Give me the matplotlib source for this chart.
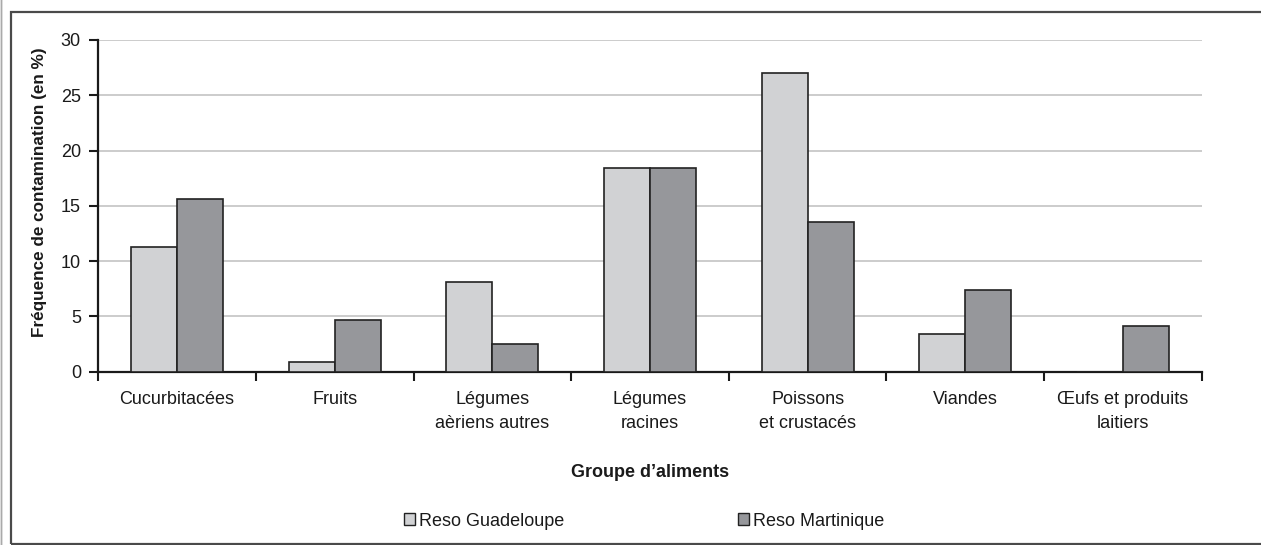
import matplotlib
matplotlib.use("Agg")
import matplotlib.pyplot as plt
import matplotlib.patches as mpatches
from matplotlib.ticker import MultipleLocator, FixedLocator
import numpy as np

plt.rcParams['font.family'] = ['Liberation Sans', 'DejaVu Sans']

# data
categories = ['Cucurbitacées', 'Fruits', 'Légumes\naèriens autres', 'Légumes\nracines',
              'Poissons\net crustacés', 'Viandes', 'Œufs et produits\nlaitiers']
guadeloupe = [11.3, 0.85, 8.15, 18.4, 27.0, 3.4, 0.0]
martinique = [15.6, 4.7, 2.55, 18.4, 13.5, 7.35, 4.1]
series_names = ['Reso Guadeloupe', 'Reso Martinique']

col = ['#d1d2d4', '#96979b']
edge = '#222222'
txt = '#1a1a1a'
fs = 13

W, H = 1261, 545
fig = plt.figure(figsize=(W / 100, H / 100), dpi=100)
ax = fig.add_axes([98.3 / W, (H - 371.7) / H, (1201.7 - 98.3) / W, (371.7 - 40) / H])

x = np.arange(len(categories))
bw = 0.292
ax.bar(x - bw / 2, guadeloupe, bw, color=col[0], edgecolor=edge, linewidth=1.2, zorder=3)
ax.bar(x + bw / 2, martinique, bw, color=col[1], edgecolor=edge, linewidth=1.2, zorder=3)

ax.set_xlim(-0.5, len(categories) - 0.5)
ax.set_ylim(0, 30)
ax.yaxis.set_major_locator(MultipleLocator(5))
ax.grid(axis='y', color='#cccccc', linewidth=1.4, zorder=0)
ax.set_axisbelow(True)

# category labels at centres, tick marks at the boundaries
ax.set_xticks(x)
ax.set_xticklabels(categories, fontsize=fs, color=txt, linespacing=1.5)
ax.tick_params(axis='x', which='major', length=0, pad=14)
ax.xaxis.set_minor_locator(FixedLocator(np.arange(-0.5, len(categories), 1)))
ax.tick_params(axis='x', which='minor', length=6.5, width=1.5, color=txt)
ax.tick_params(axis='y', length=6.5, width=1.5, color=txt, labelsize=fs,
               labelcolor=txt, pad=6)

for s in ['top', 'right']:
    ax.spines[s].set_visible(False)
for s in ['left', 'bottom']:
    ax.spines[s].set_linewidth(1.6)
    ax.spines[s].set_color(txt)

fig.text(40 / W, 1 - 192 / H, 'Fréquence de contamination (en %)', rotation=90,
         ha='center', va='center', fontsize=12.3, fontweight='bold', color=txt)
fig.text(650 / W, 1 - 477 / H, 'Groupe d\u2019aliments', ha='center', va='baseline',
         fontsize=fs, fontweight='bold', color=txt)

handles = [mpatches.Patch(facecolor=col[i], edgecolor=edge, linewidth=1.0, label=series_names[i])
           for i in range(2)]
fig.legend(handles=handles, loc='center', bbox_to_anchor=(644 / W, 1 - 521 / H), ncol=2,
           frameon=False, fontsize=fs, handlelength=0.6, handleheight=0.6,
           handletextpad=0.25, columnspacing=9.6, labelcolor=txt)

# outer frame of the figure panel
fig.patches.append(mpatches.Rectangle((11 / W, 1 / H), 1.0, (544 - 12) / H,
                                      transform=fig.transFigure, fill=False,
                                      edgecolor='#4a4a4a', linewidth=1.6))
fig.patches.append(mpatches.Rectangle((1 / W, -0.01), 0.0, 1.02, transform=fig.transFigure,
                                      fill=False, edgecolor='#aaaaaa', linewidth=1.0))

fig.savefig('out.png', dpi=100)
